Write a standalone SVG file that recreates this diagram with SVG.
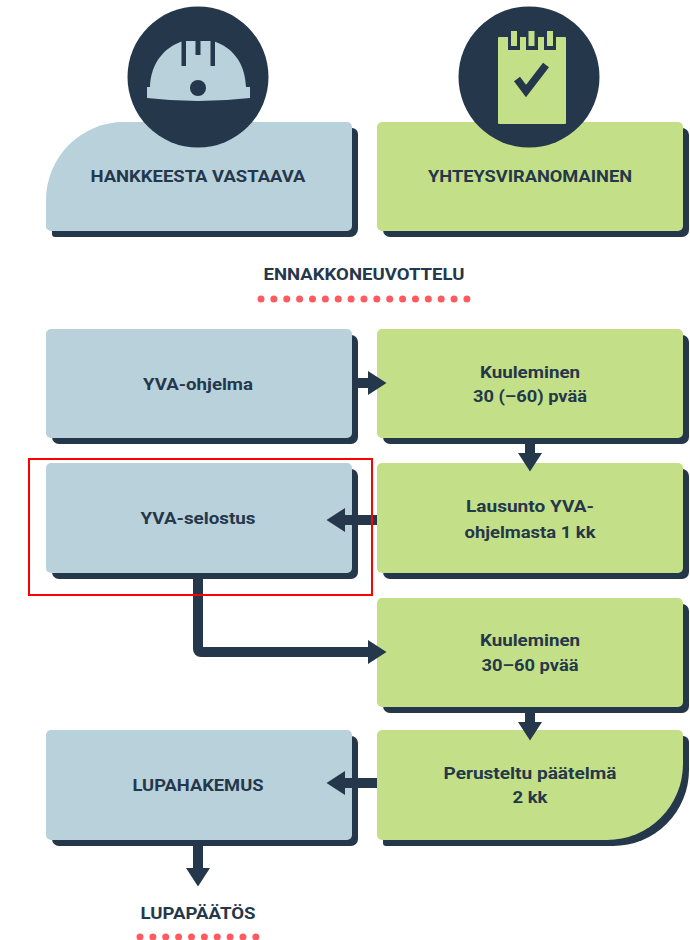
<svg xmlns="http://www.w3.org/2000/svg" width="690" height="940" viewBox="0 0 690 940">
<style>
text{font-family:"Roboto","Liberation Sans",sans-serif;font-weight:700;font-size:17px;fill:#25374a}
.blue{fill:#b8d1db}.green{fill:#c3e088}.dark{fill:#25374a}
.conn{fill:none;stroke:#25374a;stroke-width:10;marker-end:url(#head)}
.dots{fill:none;stroke:#ff5a5f;stroke-width:7;stroke-linecap:round;stroke-dasharray:0 12.87}
</style>
<defs>
<marker id="head" markerUnits="userSpaceOnUse" markerWidth="24" markerHeight="28" refX="2" refY="13" orient="auto">
<path d="M0 8H2V1L20.500 13L2 25V18H0Z" fill="#25374a"/>
</marker>
</defs>
<rect width="690" height="940" fill="#fff"/>

<g id="node-hankkeesta">
<path class="dark" d="M130 128H352a6 6 0 0 1 6 6V229a8 8 0 0 1-8 8H55a3 3 0 0 1-3-3V205Z"/>
<path class="blue" d="M124 122H347a5 5 0 0 1 5 5V226a5 5 0 0 1-5 5H51a5 5 0 0 1-5-5V200A78 78 0 0 1 124 122Z"/>
<circle class="dark" cx="198" cy="77" r="70.5"/>
<path class="blue" d="M150 87C151 62 165 47 183 41H213C232 47 245 62 246 87H250V98Q198 104 147 98V87Z"/>
<path class="dark" d="M181.500 40h4.500v26h-4.500ZM195.500 40h5v15h-5ZM210.500 40h4.500v26h-4.500Z"/>
<circle class="dark" cx="198" cy="88" r="8"/>
<text x="198" y="182" text-anchor="middle" font-size="18" textLength="215" lengthAdjust="spacingAndGlyphs">HANKKEESTA VASTAAVA</text>
</g>

<g id="node-yhteysviranomainen">
<rect class="dark" x="383" y="128" width="306" height="109" rx="7"/>
<rect class="green" x="377" y="122" width="306" height="109" rx="5"/>
<circle class="dark" cx="529" cy="77" r="70.5"/>
<rect class="green" x="498" y="37" width="68" height="87" rx="1"/>
<path class="dark" d="M508 30h12v20h-12ZM526 30h12v20h-12ZM544 30h12v20h-12Z"/>
<path class="green" d="M511 31h6v15h-6ZM528.500 31h6v15h-6ZM547 31h6v15h-6Z"/>
<path d="M517 79L526 91L546 65" fill="none" stroke="#25374a" stroke-width="7.500" stroke-linejoin="miter"/>
<text x="530" y="182" text-anchor="middle" font-size="18" textLength="204" lengthAdjust="spacingAndGlyphs">YHTEYSVIRANOMAINEN</text>
</g>

<g id="node-ennakkoneuvottelu">
<text x="364" y="280" text-anchor="middle" textLength="201" lengthAdjust="spacingAndGlyphs">ENNAKKONEUVOTTELU</text>
<path class="dots" d="M261 299H470"/>
</g>

<g id="node-yva-ohjelma">
<rect class="dark" x="52" y="335" width="306" height="109" rx="7"/>
<rect class="blue" x="46" y="329" width="306" height="109" rx="5"/>
<text x="198" y="390" text-anchor="middle" textLength="110" lengthAdjust="spacingAndGlyphs">YVA-ohjelma</text>
</g>

<g id="node-kuuleminen-1">
<rect class="dark" x="383" y="335" width="306" height="109" rx="7"/>
<rect class="green" x="377" y="329" width="306" height="109" rx="5"/>
<text x="530" y="378" text-anchor="middle" textLength="100" lengthAdjust="spacingAndGlyphs">Kuuleminen</text>
<text x="530" y="402" text-anchor="middle" textLength="114" lengthAdjust="spacingAndGlyphs">30 (–60) pvää</text>
</g>

<g id="node-yva-selostus">
<rect class="dark" x="52" y="469" width="306" height="110" rx="7"/>
<rect class="blue" x="46" y="463" width="306" height="110" rx="5"/>
<text x="198" y="524" text-anchor="middle" textLength="115" lengthAdjust="spacingAndGlyphs">YVA-selostus</text>
</g>

<g id="node-lausunto">
<rect class="dark" x="383" y="469" width="306" height="110" rx="7"/>
<rect class="green" x="377" y="463" width="306" height="110" rx="5"/>
<text x="530" y="512" text-anchor="middle" textLength="128" lengthAdjust="spacingAndGlyphs">Lausunto YVA-</text>
<text x="530" y="538" text-anchor="middle" textLength="131" lengthAdjust="spacingAndGlyphs">ohjelmasta 1 kk</text>
</g>

<g id="node-kuuleminen-2">
<rect class="dark" x="383" y="604" width="306" height="109" rx="7"/>
<rect class="green" x="377" y="598" width="306" height="109" rx="5"/>
<text x="530" y="646" text-anchor="middle" textLength="100" lengthAdjust="spacingAndGlyphs">Kuuleminen</text>
<text x="530" y="671" text-anchor="middle" textLength="97" lengthAdjust="spacingAndGlyphs">30–60 pvää</text>
</g>

<g id="node-lupahakemus">
<rect class="dark" x="52" y="736" width="306" height="110" rx="7"/>
<rect class="blue" x="46" y="730" width="306" height="110" rx="5"/>
<text x="198" y="791" text-anchor="middle" textLength="131" lengthAdjust="spacingAndGlyphs">LUPAHAKEMUS</text>
</g>

<g id="node-paatelma">
<path class="dark" d="M386 736H683a6 6 0 0 1 6 6V770A76 76 0 0 1 613 846H386a3 3 0 0 1-3-3Z"/>
<path class="green" d="M382 730H678a5 5 0 0 1 5 5V764A76 76 0 0 1 607 840H382a5 5 0 0 1-5-5V735a5 5 0 0 1 5-5Z"/>
<text x="530" y="779" text-anchor="middle" textLength="173" lengthAdjust="spacingAndGlyphs">Perusteltu päätelmä</text>
<text x="530" y="803" text-anchor="middle" textLength="35" lengthAdjust="spacingAndGlyphs">2 kk</text>
</g>

<g id="node-lupapaatos">
<text x="198" y="919" text-anchor="middle" textLength="115" lengthAdjust="spacingAndGlyphs">LUPAPÄÄTÖS</text>
<path class="dots" d="M140 937H262"/>
</g>

<g id="connectors">
<path class="conn" d="M356 383H368"/>
<path class="conn" d="M530 443V453"/>
<path class="conn" d="M377 520H345"/>
<path class="conn" d="M198 577V649Q198 652 201 652H368"/>
<path class="conn" d="M530 712V722"/>
<path class="conn" d="M377 783H345"/>
<path class="conn" d="M198 845V868"/>
</g>

<rect x="29" y="459" width="343" height="136" fill="none" stroke="#f00" stroke-width="2"/>
</svg>
